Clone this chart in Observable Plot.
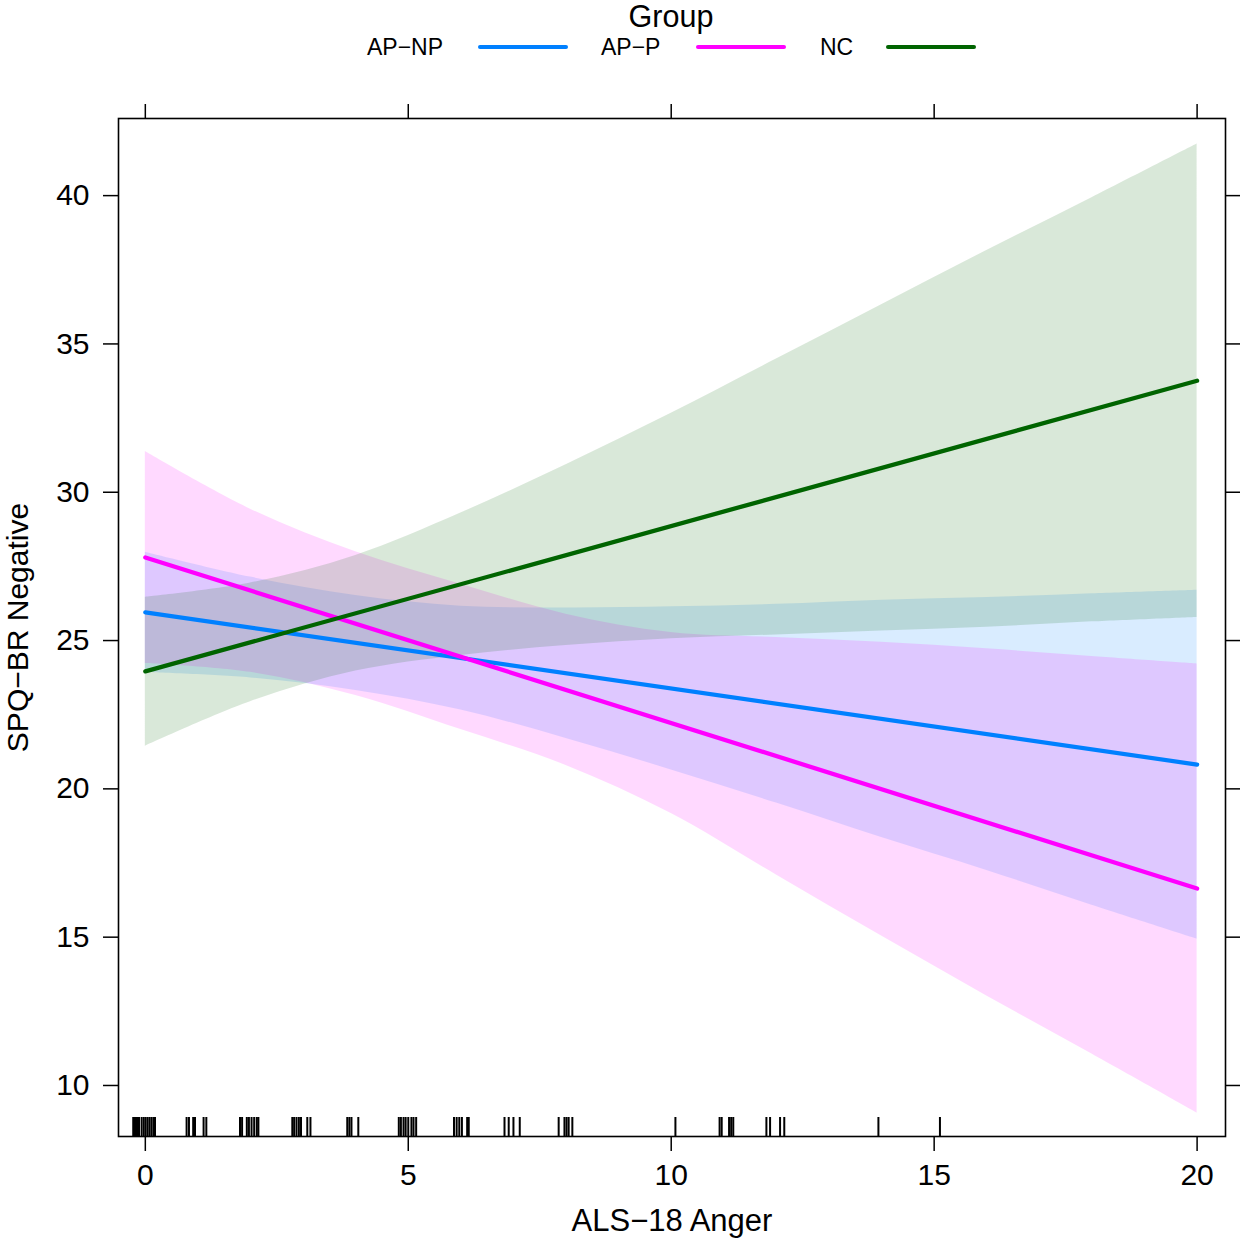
<!DOCTYPE html>
<html><head><meta charset="utf-8">
<script src="https://cdn.jsdelivr.net/npm/d3@7"></script>
<script src="https://cdn.jsdelivr.net/npm/@observablehq/plot@0.6"></script>
<style>
body{margin:0;background:#fff;font-family:"Liberation Sans",Arial,sans-serif;}
#wrap{position:relative;width:1240px;height:1248px;overflow:hidden;}
#legend{position:absolute;left:0;top:0;width:1240px;height:80px;}
#chart{position:absolute;left:0;top:80px;}
.lg-title{position:absolute;left:571px;width:200px;text-align:center;top:0px;font-size:30.5px;line-height:1.05;}
.lt{position:absolute;top:47px;font-size:23px;line-height:1;transform:translateY(-50%);}
.ll{position:absolute;top:45px;height:4px;width:90px;border-radius:2px;}
</style>
</head><body>
<div id="wrap"><div id="legend"></div><div id="chart"></div></div>
<script>
// ---- data ----
const legendTitle = "Group";
const groups = ["AP−NP", "AP−P", "NC"];
const colors = ["#0080ff", "#ff00ff", "#006400"];
const xTitle = "ALS−18 Anger";
const yTitle = "SPQ−BR Negative";
const xTicks = [0, 5, 10, 15, 20];
const yTicks = [10, 15, 20, 25, 30, 35, 40];

// fitted lines (endpoints)
const fitX = [0, 20];
const fitAPNP = [25.95, 20.82];
const fitAPP = [27.8, 16.64];
const fitNC = [23.96, 33.76];

// confidence bands read at these x
const bandX = [0, 2, 4, 6, 8, 10, 12, 14, 16, 18, 20];
const upperAPNP = [27.98, 27.14, 26.52, 26.16, 26.10, 26.14, 26.22, 26.36, 26.45, 26.58, 26.70];
const lowerAPNP = [23.92, 23.74, 23.32, 22.66, 21.70, 20.64, 19.52, 18.36, 17.25, 16.08, 14.94];
const upperAPP  = [31.37, 29.43, 27.99, 26.90, 25.89, 25.27, 25.10, 24.94, 24.72, 24.46, 24.21];
const lowerAPP  = [24.23, 23.93, 23.15, 22.00, 20.79, 19.17, 17.10, 15.04, 13.02, 11.06, 9.07];
const upperNC   = [26.46, 26.94, 27.87, 29.30, 30.93, 32.66, 34.49, 36.32, 38.15, 39.93, 41.74];
const lowerNC   = [21.44, 22.94, 23.97, 24.50, 24.83, 25.06, 25.19, 25.32, 25.45, 25.63, 25.78];

// rug of observed ALS-18 Anger values (jittered)
const rug = [-0.23, -0.196, -0.158, -0.12, -0.07, -0.03, 0.006, 0.044, 0.082, 0.12, 0.158, 0.184,
  0.785, 0.83, 0.91, 0.945, 1.108, 1.16,
  1.80, 1.84, 1.93, 1.97, 2.02, 2.07, 2.12, 2.15,
  2.795, 2.83, 2.875, 2.92, 2.96, 3.08, 3.14,
  3.84, 3.88, 3.92, 4.05,
  4.82, 4.86, 4.91, 4.95, 5.0, 5.06, 5.10, 5.15,
  5.87, 5.92, 5.97, 6.02, 6.12, 6.15,
  6.83, 6.91, 7.0, 7.12,
  7.86, 7.97, 8.01, 8.05, 8.12,
  10.08, 10.92, 10.96, 11.10, 11.14, 11.18, 11.81, 11.88, 12.07, 12.15,
  13.94, 15.11];

// ---- build tables ----
const fits = [fitAPNP, fitAPP, fitNC];
const uppers = [upperAPNP, upperAPP, upperNC];
const lowers = [lowerAPNP, lowerAPP, lowerNC];
const bands = groups.flatMap((g, i) => bandX.map((x, j) => ({group: g, x, lo: lowers[i][j], hi: uppers[i][j]})));
const lines = groups.flatMap((g, i) => fitX.map((x, j) => ({group: g, x, y: fits[i][j]})));

// ---- legend ----
const leg = document.getElementById("legend");
const t = document.createElement("div"); t.className = "lg-title"; t.textContent = legendTitle; leg.appendChild(t);
const labelLeft = [367, 601, 820];
const lineLeft = [478, 696, 886];
groups.forEach((g, i) => {
  const s = document.createElement("span"); s.className = "lt"; s.style.left = labelLeft[i] + "px"; s.textContent = g; leg.appendChild(s);
  const l = document.createElement("div"); l.className = "ll"; l.style.left = lineLeft[i] + "px"; l.style.background = colors[i]; leg.appendChild(l);
});

// ---- chart ----
const chart = Plot.plot({
  width: 1240, height: 1168,
  marginTop: 38, marginBottom: 112, marginLeft: 118, marginRight: 15,
  x: {domain: [-0.51, 20.54]},
  y: {domain: [8.28, 42.6]},
  color: {domain: groups, range: colors},
  style: {fontFamily: '"Liberation Sans", Arial, sans-serif', fontSize: "30px", color: "#000", background: "#fff"},
  marks: [
    Plot.areaY(bands, {x: "x", y1: "lo", y2: "hi", fill: "group", fillOpacity: 0.15, curve: "catmull-rom"}),
    Plot.line(lines, {x: "x", y: "y", stroke: "group", strokeWidth: 4.3}),
    Plot.tickX(rug, {x: d => d, stroke: "#000", strokeWidth: 2, insetTop: 999}),
    Plot.frame({stroke: "#000", strokeWidth: 1.6}),
    Plot.axisX({ticks: xTicks, anchor: "bottom", tickSize: 15, tickPadding: 12, label: null, fontSize: 30, strokeWidth: 1.5}),
    Plot.axisX({ticks: xTicks, anchor: "top", tickSize: 15, tickFormat: () => "", label: null, strokeWidth: 1.5}),
    Plot.axisY({ticks: yTicks, anchor: "left", tickSize: 15, tickPadding: 14, label: null, fontSize: 30, strokeWidth: 1.5}),
    Plot.axisY({ticks: yTicks, anchor: "right", tickSize: 15, tickFormat: () => "", label: null, strokeWidth: 1.5}),
    Plot.text([xTitle], {text: d => d, frameAnchor: "bottom", dy: 94, fontSize: 31}),
    Plot.text([yTitle], {text: d => d, frameAnchor: "left", dx: -100, rotate: -90, textAnchor: "middle", fontSize: 30})
  ]
});
document.getElementById("chart").appendChild(chart);
</script>
</body></html>
